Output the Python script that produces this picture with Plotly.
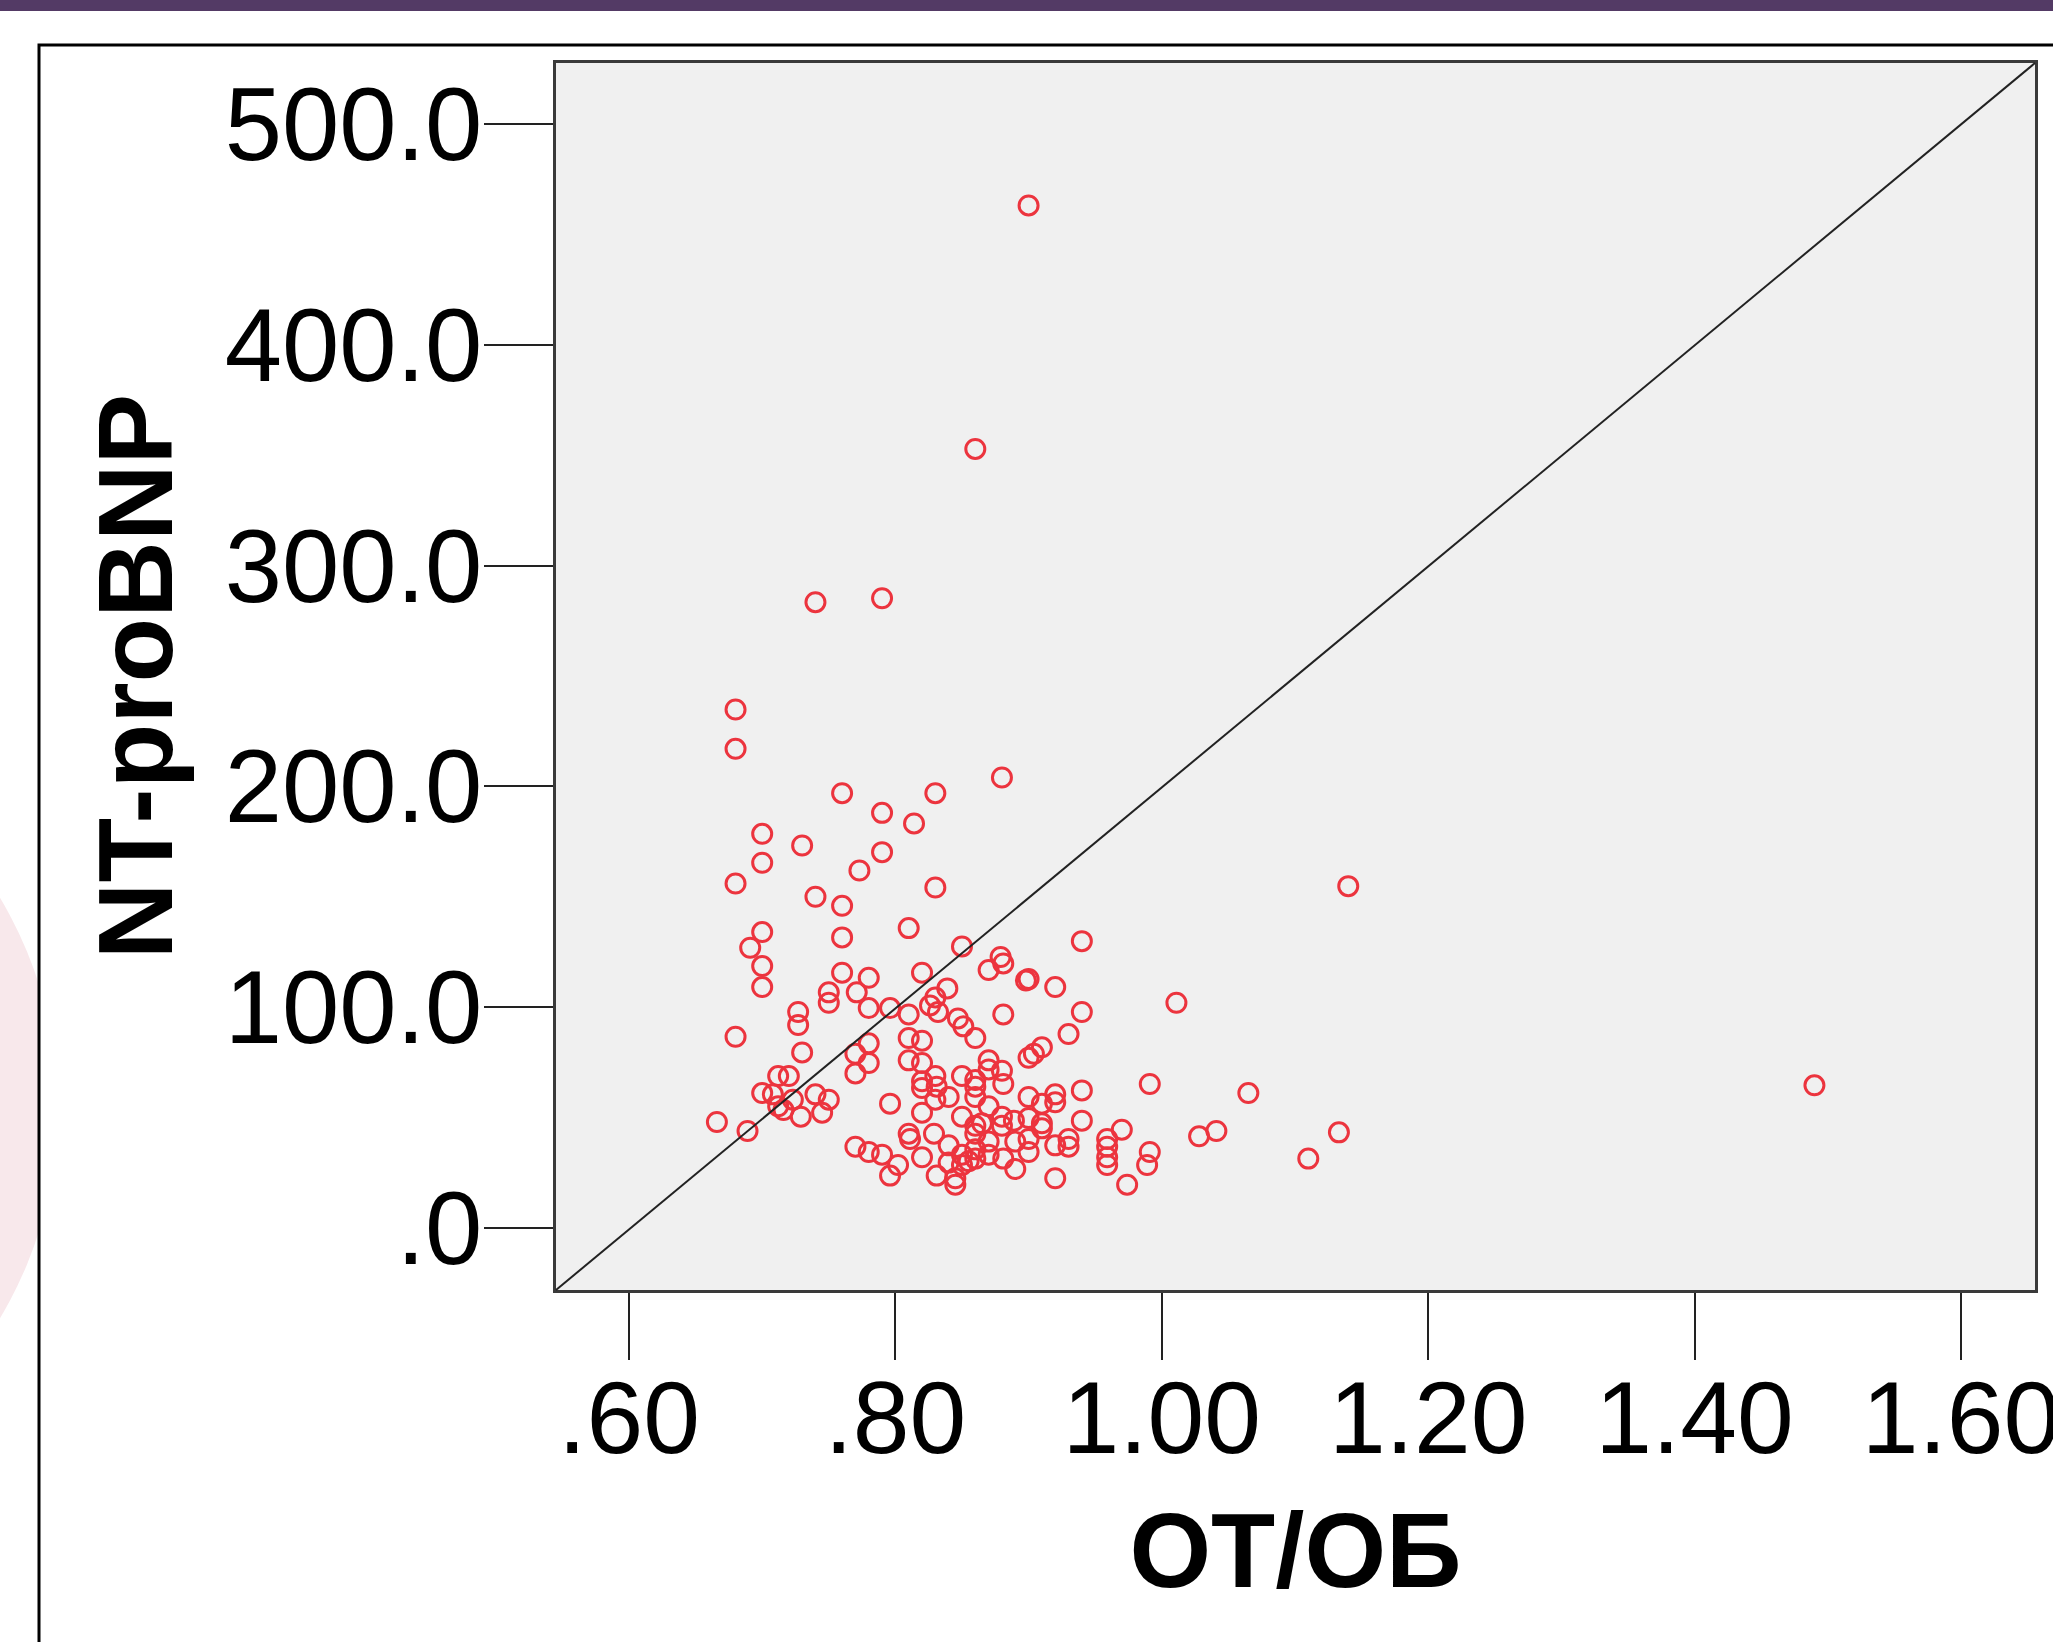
import plotly.graph_objects as go

# ---- data ----
ot_ob = [0.900, 0.860, 0.740, 0.790, 0.680, 0.680, 0.880, 0.760, 0.830, 0.790,
         0.814, 0.700, 0.730, 0.790, 0.700, 0.773, 0.680, 1.140, 0.830, 0.740,
         0.760, 0.810, 0.700, 0.760, 0.940, 0.691, 0.850, 0.879, 0.881, 0.700,
         0.870, 0.760, 0.820, 0.900, 0.898, 0.780, 0.920, 0.700, 0.839, 0.750,
         0.771, 0.830, 0.750, 1.011, 0.796, 0.780, 0.826, 0.832, 0.810, 0.727,
         0.940, 0.881, 0.847, 0.727, 0.851, 0.860, 0.680, 0.930, 0.810, 0.820,
         0.780, 0.730, 0.770, 0.910, 0.904, 0.900, 0.870, 0.780, 0.810, 0.820,
         0.870, 0.880, 0.712, 0.720, 0.770, 0.850, 0.860, 0.830, 0.820, 0.991,
         1.490, 0.831, 0.860, 0.881, 0.820, 0.940, 1.065, 0.700, 0.708, 0.740,
         0.750, 0.920, 0.840, 0.860, 0.900, 0.910, 0.830, 0.723, 0.796, 0.712,
         0.870, 0.920, 0.716, 0.745, 0.729, 0.820, 0.850, 0.880, 0.900, 0.940,
         0.666, 0.910, 0.860, 0.865, 0.880, 0.889, 0.910, 0.970, 0.689, 1.028,
         1.041, 1.133, 0.810, 0.860, 0.811, 0.829, 0.870, 0.890, 0.900, 0.930,
         0.959, 0.920, 0.840, 0.860, 0.930, 0.770, 0.780, 0.790, 0.959, 0.991,
         0.850, 0.870, 0.900, 0.881, 0.860, 0.959, 0.820, 0.855, 0.840, 1.110,
         0.802, 0.989, 0.959, 0.850, 0.890, 0.831, 0.796, 0.845, 0.920, 0.974,
         0.845]
nt_probnp = [463.1, 352.8, 283.4, 285.2, 234.8, 217.0, 204.0, 196.9, 196.9, 188.0,
             183.2, 178.5, 173.2, 170.2, 165.4, 161.9, 156.0, 154.8, 154.2, 150.0,
             145.9, 135.8, 134.0, 131.6, 129.9, 126.9, 127.5, 122.7, 119.8, 118.6,
             116.8, 115.6, 115.6, 112.7, 112.1, 113.3, 109.1, 109.1, 108.5, 106.7,
             106.7, 104.4, 102.0, 102.0, 99.6, 99.6, 100.8, 97.8, 96.7, 97.8,
             97.8, 96.7, 94.9, 91.9, 91.3, 86.0, 86.6, 87.8, 86.0, 84.8,
             83.6, 79.5, 78.9, 81.8, 78.9, 77.1, 75.9, 74.7, 75.9, 74.7,
             71.8, 71.2, 68.8, 68.8, 70.0, 68.8, 67.0, 68.8, 66.4, 65.2,
             64.6, 64.0, 64.0, 65.2, 63.4, 62.3, 61.1, 61.1, 60.5, 60.5,
             58.1, 60.5, 59.3, 59.3, 59.3, 56.3, 58.1, 58.1, 56.3, 55.1,
             55.1, 56.9, 53.4, 52.2, 50.4, 52.2, 50.4, 50.4, 49.8, 48.6,
             48.0, 47.4, 46.3, 47.4, 46.3, 48.6, 45.1, 44.5, 43.9, 41.5,
             43.9, 43.3, 42.7, 42.7, 40.3, 42.7, 39.1, 39.1, 40.3, 40.3,
             40.3, 37.4, 37.4, 35.6, 36.8, 36.8, 34.4, 33.2, 36.8, 34.4,
             33.2, 33.2, 34.4, 31.4, 31.4, 32.0, 32.0, 30.2, 29.6, 31.4,
             28.5, 28.5, 28.5, 28.5, 26.7, 23.7, 23.7, 22.5, 22.5, 19.6,
             19.6]

x_tickvals = [0.6, 0.8, 1.0, 1.2, 1.4, 1.6]
x_ticktext = [".60", ".80", "1.00", "1.20", "1.40", "1.60"]
y_tickvals = [0, 100, 200, 300, 400, 500]
y_ticktext = [".0", "100.0", "200.0", "300.0", "400.0", "500.0"]

x_title = "ОТ/ОБ"
y_title = "NT-proBNP"

FONT = "Liberation Sans, Arial, sans-serif"
W, H = 2053, 1642
ML, MR, MT, MB = 556, 18, 63, 352
PW, PH = W - ML - MR, H - MT - MB


def px(xpix):
    return (xpix - ML) / PW


def py(ypix):
    return (H - MB - ypix) / PH


RED = "rgb(236,52,62)"

fig = go.Figure()
fig.add_trace(go.Scatter(
    x=ot_ob, y=nt_probnp, mode="markers",
    marker=dict(symbol="circle-open", size=19, color=RED,
                line=dict(width=3, color=RED)),
    showlegend=False, hoverinfo="x+y",
))

shapes = [
    # faint pink watermark at the far left
    dict(type="circle", xref="paper", yref="paper", layer="below",
         x0=px(-762), x1=px(58), y0=py(1518), y1=py(698),
         fillcolor="rgb(248,232,235)", line=dict(width=0)),
    # white panel covering the watermark inside the box
    dict(type="rect", xref="paper", yref="paper", layer="below",
         x0=px(40), x1=px(552), y0=py(1650), y1=py(46),
         fillcolor="white", line=dict(width=0)),
    # box outline
    dict(type="rect", xref="paper", yref="paper", layer="below",
         x0=px(39), x1=px(2070), y0=py(1660), y1=py(45),
         line=dict(color="black", width=3)),
    # purple band at top
    dict(type="rect", xref="paper", yref="paper", layer="above",
         x0=px(-10), x1=px(2070), y0=py(11), y1=py(-10),
         fillcolor="#533a65", line=dict(width=0)),
    # diagonal reference line corner to corner
    dict(type="line", xref="x domain", yref="y domain", layer="above",
         x0=0, y0=0, x1=1, y1=1, line=dict(color="#222222", width=2)),
]

fig.update_layout(
    width=W, height=H,
    margin=dict(l=ML, r=MR, t=MT, b=MB, autoexpand=False),
    paper_bgcolor="white", plot_bgcolor="#f0f0f0",
    font=dict(family=FONT, color="black"),
    shapes=shapes,
    xaxis=dict(
        range=[0.5452, 1.6556], tickvals=x_tickvals, ticktext=x_ticktext,
        ticks="outside", ticklen=67, tickwidth=2, tickcolor="#222",
        tickfont=dict(size=102, family=FONT, color="black"),
        showgrid=False, zeroline=False,
        showline=True, mirror=True, linecolor="#3a3a3a", linewidth=3,
        ticklabelstandoff=-29, ticklabeloverflow="allow",
        title=dict(text=x_title, font=dict(size=105, family=FONT, color="black",
                                           weight="bold"), standoff=40),
    ),
    yaxis=dict(
        range=[-28.1, 527.6], tickvals=y_tickvals, ticktext=y_ticktext,
        ticks="outside", ticklen=69, tickwidth=2, tickcolor="#222",
        tickfont=dict(size=103, family=FONT, color="black"),
        showgrid=False, zeroline=False,
        showline=True, mirror=True, linecolor="#3a3a3a", linewidth=3,
        ticklabelstandoff=-19, ticklabeloverflow="allow",
        title=dict(text=y_title, font=dict(size=106, family=FONT, color="black",
                                           weight="bold"), standoff=17),
    ),
)

fig.write_html(
    "out.html",
    config={"displayModeBar": False},
    post_script="document.body.style.margin='0';document.body.style.overflow='hidden';",
)
